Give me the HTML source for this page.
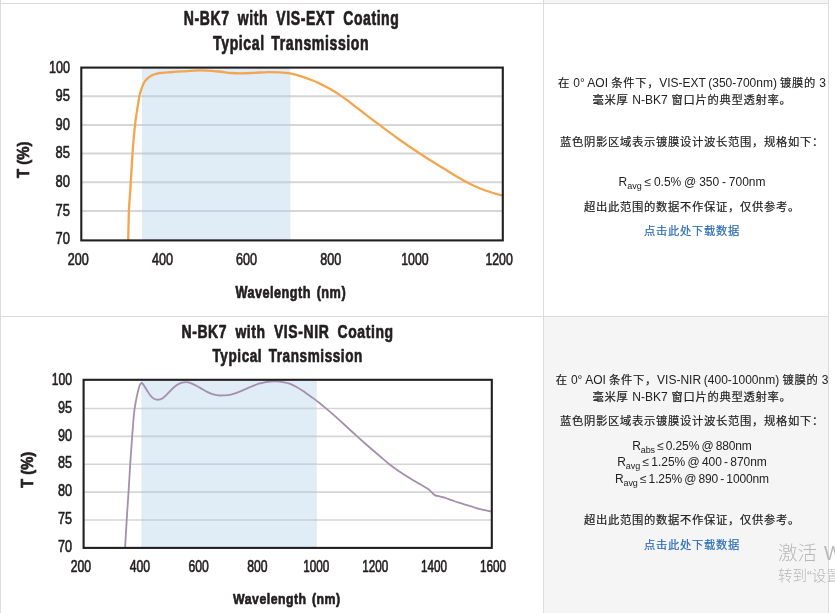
<!DOCTYPE html>
<html lang="zh-CN">
<head>
<meta charset="utf-8">
<title>N-BK7 Coating Transmission</title>
<style>
html,body{margin:0;padding:0;background:#fff;}
body{width:835px;height:613px;position:relative;overflow:hidden;font-family:"Liberation Sans","Noto Sans CJK SC",sans-serif;font-size:12px;color:#222;}

.hl{position:absolute;height:1px;background:#dcdcdc;}
.vl{position:absolute;width:1px;background:#dcdcdc;}
.gray{position:absolute;background:#f5f5f5;}
svg{position:absolute;left:0;top:0;}
svg text{font-family:"Liberation Sans",sans-serif;fill:#231f20;}
svg text.tk{stroke:#231f20;stroke-width:0.65px;stroke-linejoin:round;}
svg text.bd{stroke:#231f20;stroke-width:0.7px;stroke-linejoin:round;}
.ln{position:absolute;left:543.5px;width:297px;text-align:center;white-space:nowrap;line-height:16px;height:16px;font-size:11.3px;letter-spacing:0.7px;color:#222;-webkit-text-stroke:0.2px #222;}
.ln a{color:#2b6cb5;text-decoration:none;-webkit-text-stroke:0.2px #2b6cb5;}
.ln sub{font-size:9px;vertical-align:baseline;position:relative;top:3px;line-height:0;}
.lat{font-size:12px;letter-spacing:0;-webkit-text-stroke:0;}
.wm{position:absolute;left:778px;white-space:nowrap;color:#b8b8b8;font-family:"Liberation Sans","Noto Sans CJK SC",sans-serif;font-weight:300;}
</style>
</head>
<body>
<div class="gray" style="left:544px;top:0;width:284px;height:3px;"></div>
<div class="gray" style="left:544px;top:317px;width:284px;height:296px;"></div>
<div class="hl" style="left:0;top:3px;width:829px;"></div>
<div class="hl" style="left:0;top:316px;width:829px;"></div>
<div class="vl" style="left:0;top:0;height:613px;"></div>
<div class="vl" style="left:543px;top:0;height:613px;"></div>
<div class="vl" style="left:828px;top:0;height:613px;"></div>
<svg width="543" height="613" viewBox="0 0 543 613">
<g>
<rect x="142.0" y="67.6" width="148.3" height="172.8" fill="#e0ecf6"/>
<line x1="81.3" y1="96.20" x2="502.8" y2="96.20" stroke="#d6d6d6" stroke-width="2.00"/>
<line x1="142.0" y1="96.20" x2="290.3" y2="96.20" stroke="#c7d3de" stroke-width="2.00"/>
<line x1="81.3" y1="124.88" x2="502.8" y2="124.88" stroke="#d6d6d6" stroke-width="2.00"/>
<line x1="142.0" y1="124.88" x2="290.3" y2="124.88" stroke="#c7d3de" stroke-width="2.00"/>
<line x1="81.3" y1="153.56" x2="502.8" y2="153.56" stroke="#d6d6d6" stroke-width="2.00"/>
<line x1="142.0" y1="153.56" x2="290.3" y2="153.56" stroke="#c7d3de" stroke-width="2.00"/>
<line x1="81.3" y1="182.24" x2="502.8" y2="182.24" stroke="#d6d6d6" stroke-width="2.00"/>
<line x1="142.0" y1="182.24" x2="290.3" y2="182.24" stroke="#c7d3de" stroke-width="2.00"/>
<line x1="81.3" y1="210.92" x2="502.8" y2="210.92" stroke="#d6d6d6" stroke-width="2.00"/>
<line x1="142.0" y1="210.92" x2="290.3" y2="210.92" stroke="#c7d3de" stroke-width="2.00"/>
<path d="M128.20,241.00 C128.32,235.98 128.67,217.73 128.90,210.90 C129.13,204.07 129.28,204.75 129.60,200.00 C129.92,195.25 130.47,187.60 130.80,182.40 C131.13,177.20 131.32,173.57 131.60,168.80 C131.88,164.03 132.20,158.27 132.50,153.80 C132.80,149.33 132.98,146.80 133.40,142.00 C133.82,137.20 134.40,130.20 135.00,125.00 C135.60,119.80 136.40,114.80 137.00,110.80 C137.60,106.80 138.18,103.50 138.60,101.00 C139.02,98.50 139.12,97.53 139.50,95.80 C139.88,94.07 140.32,92.42 140.90,90.60 C141.48,88.78 142.28,86.52 143.00,84.90 C143.72,83.28 144.23,82.17 145.20,80.90 C146.17,79.63 147.60,78.26 148.80,77.30 C150.00,76.34 151.20,75.72 152.40,75.15 C153.60,74.58 154.68,74.26 156.00,73.90 C157.32,73.54 158.30,73.25 160.30,73.00 C162.30,72.75 164.35,72.67 168.00,72.40 C171.65,72.13 176.83,71.73 182.20,71.40 C187.57,71.07 194.20,70.38 200.20,70.40 C206.20,70.42 213.07,71.07 218.20,71.50 C223.33,71.93 227.03,72.70 231.00,73.00 C234.97,73.30 238.17,73.33 242.00,73.30 C245.83,73.27 249.67,73.00 254.00,72.80 C258.33,72.60 263.67,72.17 268.00,72.10 C272.33,72.03 276.33,72.19 280.00,72.40 C283.67,72.61 287.13,72.89 290.00,73.35 C292.87,73.81 294.80,74.49 297.20,75.15 C299.60,75.81 302.00,76.49 304.40,77.30 C306.80,78.11 309.20,79.03 311.60,80.00 C314.00,80.97 316.40,81.98 318.80,83.10 C321.20,84.22 323.60,85.43 326.00,86.70 C328.40,87.97 330.62,89.13 333.20,90.70 C335.78,92.27 338.70,94.17 341.50,96.10 C344.30,98.03 347.02,100.03 350.00,102.30 C352.98,104.57 356.23,107.23 359.40,109.70 C362.57,112.17 365.65,114.56 369.00,117.10 C372.35,119.64 376.08,122.40 379.50,124.95 C382.92,127.50 386.08,129.89 389.50,132.40 C392.92,134.91 396.58,137.57 400.00,140.00 C403.42,142.43 406.63,144.71 410.00,147.00 C413.37,149.29 416.62,151.42 420.20,153.75 C423.78,156.08 427.62,158.57 431.50,161.00 C435.38,163.43 439.58,165.90 443.50,168.30 C447.42,170.70 451.10,173.07 455.00,175.40 C458.90,177.73 463.57,180.48 466.90,182.30 C470.23,184.12 472.15,185.02 475.00,186.30 C477.85,187.58 480.97,188.88 484.00,190.00 C487.03,191.12 490.12,192.07 493.20,193.00 C496.28,193.93 500.95,195.17 502.50,195.60" fill="none" stroke="#f3a550" stroke-width="2.30" stroke-linejoin="round"/>
<rect x="81.30" y="67.60" width="421.50" height="172.80" fill="none" stroke="#231f20" stroke-width="2.10"/>
<text x="183.8" y="25.3" font-size="19.3" font-weight="bold" class="bd" letter-spacing="0.8" word-spacing="5.2" textLength="215.6" lengthAdjust="spacingAndGlyphs">N-BK7 with VIS-EXT Coating</text>
<text x="213.1" y="49.6" font-size="19.3" font-weight="bold" class="bd" letter-spacing="0.8" word-spacing="3.0" textLength="156.1" lengthAdjust="spacingAndGlyphs">Typical Transmission</text>
<text x="48.9" y="72.6" font-size="16.5" textLength="21.0" lengthAdjust="spacingAndGlyphs" class="tk">100</text>
<text x="55.5" y="101.2" font-size="16.5" textLength="14.4" lengthAdjust="spacingAndGlyphs" class="tk">95</text>
<text x="55.5" y="129.8" font-size="16.5" textLength="14.4" lengthAdjust="spacingAndGlyphs" class="tk">90</text>
<text x="55.5" y="158.4" font-size="16.5" textLength="14.4" lengthAdjust="spacingAndGlyphs" class="tk">85</text>
<text x="55.5" y="187.0" font-size="16.5" textLength="14.4" lengthAdjust="spacingAndGlyphs" class="tk">80</text>
<text x="55.5" y="215.5" font-size="16.5" textLength="14.4" lengthAdjust="spacingAndGlyphs" class="tk">75</text>
<text x="55.5" y="244.1" font-size="16.5" textLength="14.4" lengthAdjust="spacingAndGlyphs" class="tk">70</text>
<text x="67.8" y="264.6" font-size="16.5" textLength="21.0" lengthAdjust="spacingAndGlyphs" class="tk">200</text>
<text x="152.0" y="264.6" font-size="16.5" textLength="21.0" lengthAdjust="spacingAndGlyphs" class="tk">400</text>
<text x="236.1" y="264.6" font-size="16.5" textLength="21.0" lengthAdjust="spacingAndGlyphs" class="tk">600</text>
<text x="320.3" y="264.6" font-size="16.5" textLength="21.0" lengthAdjust="spacingAndGlyphs" class="tk">800</text>
<text x="401.2" y="264.6" font-size="16.5" textLength="27.4" lengthAdjust="spacingAndGlyphs" class="tk">1000</text>
<text x="485.4" y="264.6" font-size="16.5" textLength="27.4" lengthAdjust="spacingAndGlyphs" class="tk">1200</text>
<text x="235.4" y="297.6" font-size="15.8" font-weight="bold" class="bd" letter-spacing="0.6" word-spacing="2.0" textLength="110.7" lengthAdjust="spacingAndGlyphs">Wavelength (nm)</text>
<text transform="translate(29.1,178.0) rotate(-90)" font-size="16.5" font-weight="bold" class="bd" textLength="36.5" lengthAdjust="spacingAndGlyphs">T (%)</text>
</g>
<g>
<rect x="141.4" y="379.8" width="175.4" height="168.1" fill="#e0ecf6"/>
<line x1="83.6" y1="408.50" x2="491.8" y2="408.50" stroke="#d6d6d6" stroke-width="1.60"/>
<line x1="141.4" y1="408.50" x2="316.8" y2="408.50" stroke="#c7d3de" stroke-width="1.60"/>
<line x1="83.6" y1="436.37" x2="491.8" y2="436.37" stroke="#d6d6d6" stroke-width="1.60"/>
<line x1="141.4" y1="436.37" x2="316.8" y2="436.37" stroke="#c7d3de" stroke-width="1.60"/>
<line x1="83.6" y1="464.24" x2="491.8" y2="464.24" stroke="#d6d6d6" stroke-width="1.60"/>
<line x1="141.4" y1="464.24" x2="316.8" y2="464.24" stroke="#c7d3de" stroke-width="1.60"/>
<line x1="83.6" y1="492.11" x2="491.8" y2="492.11" stroke="#d6d6d6" stroke-width="1.60"/>
<line x1="141.4" y1="492.11" x2="316.8" y2="492.11" stroke="#c7d3de" stroke-width="1.60"/>
<line x1="83.6" y1="519.98" x2="491.8" y2="519.98" stroke="#d6d6d6" stroke-width="1.60"/>
<line x1="141.4" y1="519.98" x2="316.8" y2="519.98" stroke="#c7d3de" stroke-width="1.60"/>
<path d="M125.00,549.00 C125.28,544.17 126.10,529.70 126.70,520.00 C127.30,510.30 128.00,500.30 128.60,490.80 C129.20,481.30 129.87,469.80 130.30,463.00 C130.73,456.20 130.88,454.50 131.20,450.00 C131.52,445.50 131.92,439.83 132.20,436.00 C132.48,432.17 132.67,430.00 132.90,427.00 C133.13,424.00 133.32,421.00 133.60,418.00 C133.88,415.00 134.20,411.90 134.60,409.00 C135.00,406.10 135.52,403.20 136.00,400.60 C136.48,398.00 137.03,395.47 137.50,393.40 C137.97,391.33 138.37,389.67 138.80,388.20 C139.23,386.73 139.63,385.47 140.10,384.60 C140.57,383.73 141.12,383.08 141.60,383.00 C142.08,382.92 142.53,383.57 143.00,384.10 C143.47,384.63 143.68,385.07 144.40,386.20 C145.12,387.33 146.33,389.40 147.30,390.90 C148.27,392.40 149.23,394.00 150.20,395.20 C151.17,396.40 152.15,397.38 153.10,398.10 C154.05,398.82 154.95,399.23 155.90,399.50 C156.85,399.77 157.83,399.82 158.80,399.70 C159.77,399.58 160.73,399.32 161.70,398.80 C162.67,398.28 163.40,397.68 164.60,396.60 C165.80,395.52 167.47,393.73 168.90,392.30 C170.33,390.87 171.93,389.17 173.20,388.00 C174.47,386.83 175.37,386.08 176.50,385.30 C177.63,384.52 178.75,383.80 180.00,383.30 C181.25,382.80 182.43,382.42 184.00,382.30 C185.57,382.18 187.55,382.12 189.40,382.60 C191.25,383.08 193.18,384.18 195.10,385.15 C197.02,386.12 198.98,387.32 200.90,388.40 C202.82,389.47 204.68,390.65 206.60,391.60 C208.52,392.55 210.47,393.47 212.40,394.10 C214.33,394.73 216.28,395.18 218.20,395.40 C220.12,395.62 221.98,395.48 223.90,395.40 C225.82,395.32 227.72,395.29 229.70,394.90 C231.68,394.51 233.83,393.72 235.80,393.05 C237.77,392.38 239.58,391.67 241.50,390.90 C243.42,390.12 245.38,389.23 247.30,388.40 C249.22,387.57 251.08,386.68 253.00,385.90 C254.92,385.12 256.88,384.30 258.80,383.70 C260.72,383.10 262.58,382.67 264.50,382.30 C266.42,381.93 268.38,381.65 270.30,381.50 C272.22,381.35 274.08,381.33 276.00,381.40 C277.92,381.47 279.97,381.63 281.80,381.90 C283.63,382.17 285.50,382.63 287.00,383.00 C288.50,383.37 289.22,383.44 290.80,384.10 C292.38,384.76 294.58,385.88 296.50,386.95 C298.42,388.02 300.38,389.24 302.30,390.50 C304.22,391.76 306.08,393.15 308.00,394.50 C309.92,395.85 311.88,397.18 313.80,398.60 C315.72,400.02 317.47,401.37 319.50,403.00 C321.53,404.63 323.75,406.50 326.00,408.40 C328.25,410.30 330.67,412.35 333.00,414.40 C335.33,416.45 337.50,418.43 340.00,420.70 C342.50,422.97 345.23,425.47 348.00,428.00 C350.77,430.53 353.93,433.48 356.60,435.90 C359.27,438.32 361.43,440.23 364.00,442.50 C366.57,444.77 369.25,447.12 372.00,449.50 C374.75,451.88 377.60,454.33 380.50,456.80 C383.40,459.27 386.57,462.05 389.40,464.30 C392.23,466.55 394.73,468.38 397.50,470.30 C400.27,472.22 403.38,474.15 406.00,475.80 C408.62,477.45 410.83,478.78 413.20,480.20 C415.57,481.62 417.82,482.90 420.20,484.30 C422.58,485.70 425.62,487.30 427.50,488.60 C429.38,489.90 430.30,491.02 431.50,492.10 C432.70,493.18 433.50,494.42 434.70,495.10 C435.90,495.78 437.07,495.77 438.70,496.20 C440.33,496.62 442.33,496.98 444.50,497.65 C446.67,498.32 449.32,499.36 451.70,500.20 C454.08,501.04 456.42,501.92 458.80,502.70 C461.18,503.48 463.60,504.13 466.00,504.85 C468.40,505.57 470.87,506.27 473.20,507.00 C475.53,507.73 476.95,508.43 480.00,509.20 C483.05,509.97 489.58,511.20 491.50,511.60" fill="none" stroke="#a48fad" stroke-width="1.80" stroke-linejoin="round"/>
<rect x="83.60" y="379.80" width="408.20" height="168.10" fill="none" stroke="#231f20" stroke-width="2.10"/>
<text x="181.5" y="338.4" font-size="18.7" font-weight="bold" class="bd" letter-spacing="0.8" word-spacing="5.0" textLength="212.2" lengthAdjust="spacingAndGlyphs">N-BK7 with VIS-NIR Coating</text>
<text x="212.5" y="362.2" font-size="18.7" font-weight="bold" class="bd" letter-spacing="0.8" word-spacing="2.9" textLength="150.4" lengthAdjust="spacingAndGlyphs">Typical Transmission</text>
<text x="51.7" y="384.8" font-size="16.0" textLength="20.3" lengthAdjust="spacingAndGlyphs" class="tk">100</text>
<text x="58.0" y="412.7" font-size="16.0" textLength="14.0" lengthAdjust="spacingAndGlyphs" class="tk">95</text>
<text x="58.0" y="440.5" font-size="16.0" textLength="14.0" lengthAdjust="spacingAndGlyphs" class="tk">90</text>
<text x="58.0" y="468.4" font-size="16.0" textLength="14.0" lengthAdjust="spacingAndGlyphs" class="tk">85</text>
<text x="58.0" y="496.2" font-size="16.0" textLength="14.0" lengthAdjust="spacingAndGlyphs" class="tk">80</text>
<text x="58.0" y="524.1" font-size="16.0" textLength="14.0" lengthAdjust="spacingAndGlyphs" class="tk">75</text>
<text x="58.0" y="552.0" font-size="16.0" textLength="14.0" lengthAdjust="spacingAndGlyphs" class="tk">70</text>
<text x="70.8" y="572.3" font-size="16.0" textLength="20.3" lengthAdjust="spacingAndGlyphs" class="tk">200</text>
<text x="129.7" y="572.3" font-size="16.0" textLength="20.3" lengthAdjust="spacingAndGlyphs" class="tk">400</text>
<text x="188.5" y="572.3" font-size="16.0" textLength="20.3" lengthAdjust="spacingAndGlyphs" class="tk">600</text>
<text x="247.2" y="572.3" font-size="16.0" textLength="20.3" lengthAdjust="spacingAndGlyphs" class="tk">800</text>
<text x="303.3" y="572.3" font-size="16.0" textLength="26.0" lengthAdjust="spacingAndGlyphs" class="tk">1000</text>
<text x="362.2" y="572.3" font-size="16.0" textLength="26.0" lengthAdjust="spacingAndGlyphs" class="tk">1200</text>
<text x="421.1" y="572.3" font-size="16.0" textLength="26.0" lengthAdjust="spacingAndGlyphs" class="tk">1400</text>
<text x="479.9" y="572.3" font-size="16.0" textLength="26.0" lengthAdjust="spacingAndGlyphs" class="tk">1600</text>
<text x="233.1" y="603.5" font-size="15.3" font-weight="bold" class="bd" letter-spacing="0.6" word-spacing="1.9" textLength="107.5" lengthAdjust="spacingAndGlyphs">Wavelength (nm)</text>
<text transform="translate(32.7,487.7) rotate(-90)" font-size="16.0" font-weight="bold" class="bd" textLength="35.8" lengthAdjust="spacingAndGlyphs">T (%)</text>
</g>
</svg>

<div class="ln" style="top:75px;word-spacing:-0.7px;">在 <span class="lat">0° AOI</span> 条件下，<span class="lat">VIS-EXT (350-700nm)</span> 镀膜的 <span class="lat">3</span></div>
<div class="ln" style="top:92px;">毫米厚 <span class="lat">N-BK7</span> 窗口片的典型透射率。</div>
<div class="ln" style="top:134px;">蓝色阴影区域表示镀膜设计波长范围，规格如下：</div>
<div class="ln" style="top:174px;word-spacing:-0.5px;"><span class="lat">R<sub>avg</sub> ≤ 0.5% @ 350 - 700nm</span></div>
<div class="ln" style="top:199px;">超出此范围的数据不作保证，仅供参考。</div>
<div class="ln" style="top:223px;"><a>点击此处下载数据</a></div>

<div class="ln" style="top:372px;word-spacing:-0.6px;">在 <span class="lat">0° AOI</span> 条件下，<span class="lat">VIS-NIR (400-1000nm)</span> 镀膜的 <span class="lat">3</span></div>
<div class="ln" style="top:389px;">毫米厚 <span class="lat">N-BK7</span> 窗口片的典型透射率。</div>
<div class="ln" style="top:413px;">蓝色阴影区域表示镀膜设计波长范围，规格如下：</div>
<div class="ln" style="top:438px;word-spacing:-1px;"><span class="lat" style="letter-spacing:-0.13px;">R<sub>abs</sub> ≤ 0.25% @ 880nm</span></div>
<div class="ln" style="top:454px;word-spacing:-1px;"><span class="lat" style="letter-spacing:-0.04px;">R<sub>avg</sub> ≤ 1.25% @ 400 - 870nm</span></div>
<div class="ln" style="top:471px;word-spacing:-1px;"><span class="lat" style="letter-spacing:-0.13px;">R<sub>avg</sub> ≤ 1.25% @ 890 - 1000nm</span></div>
<div class="ln" style="top:512px;">超出此范围的数据不作保证，仅供参考。</div>
<div class="ln" style="top:537px;"><a>点击此处下载数据</a></div>

<div class="wm" style="top:538.5px;font-size:19.5px;word-spacing:1.5px;line-height:28px;">激活 Windows</div>
<div class="wm" style="top:566px;font-size:14.5px;line-height:20px;">转到“设置”以激活 Windows。</div>
</body>
</html>
